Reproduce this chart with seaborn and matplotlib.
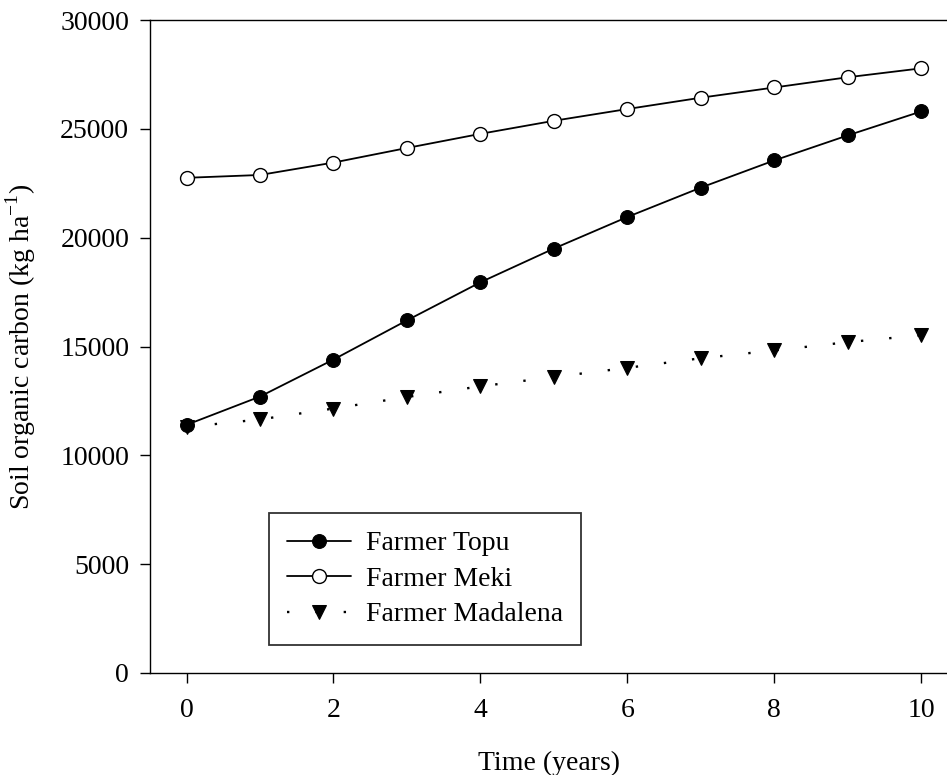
import numpy as np
import matplotlib
matplotlib.use('Agg')
import matplotlib.pyplot as plt
import seaborn as sns

# Data
years = [0, 1, 2, 3, 4, 5, 6, 7, 8, 9, 10]
topu = [11400, 12700, 14400, 16200, 17950, 19500, 20950, 22300, 23550, 24700, 25800]
meki = [22750, 22880, 23450, 24120, 24770, 25370, 25910, 26430, 26900, 27370, 27780]
madalena = [11300, 11650, 12150, 12680, 13170, 13600, 14020, 14460, 14820, 15200, 15520]

sns.set_style('ticks')
plt.rcParams['font.family'] = ['Liberation Serif', 'DejaVu Serif']
plt.rcParams['mathtext.fontset'] = 'custom'
plt.rcParams['mathtext.rm'] = 'Liberation Serif'
plt.rcParams['text.color'] = 'black'
plt.rcParams['axes.labelcolor'] = 'black'

fig = plt.figure(figsize=(9.47, 7.75), dpi=100)
ax = fig.add_axes([150 / 947, 1 - 673 / 775, 1 - 150 / 947, (673 - 20) / 775])

sns.lineplot(x=years, y=topu, ax=ax, color='black', lw=1.3, marker='o',
             markersize=10, markerfacecolor='black', markeredgecolor='black',
             label='Farmer Topu')
sns.lineplot(x=years, y=meki, ax=ax, color='black', lw=1.3, marker='o',
             markersize=10, markerfacecolor='white', markeredgecolor='black',
             markeredgewidth=1.0, label='Farmer Meki')
sns.lineplot(x=years, y=madalena, ax=ax, color='black', lw=1.7,
             linestyle=(0, (1, 11)), marker='v', markersize=10,
             markerfacecolor='black', markeredgecolor='black',
             label='Farmer Madalena')

ax.set_xlim(-0.497, 10.35)
ax.set_ylim(0, 30000)
ax.set_xticks([0, 2, 4, 6, 8, 10])
ax.set_yticks([0, 5000, 10000, 15000, 20000, 25000, 30000])

ax.spines['right'].set_visible(False)
for s in ['left', 'top', 'bottom']:
    ax.spines[s].set_linewidth(1.0)
    ax.spines[s].set_color('black')
ax.tick_params(axis='both', direction='out', length=7, width=1.0,
               labelsize=20, colors='black', pad=8)
ax.tick_params(axis='x', pad=11)

ax.set_xlabel('Time (years)', fontsize=20, labelpad=20)
ax.set_ylabel('Soil organic carbon (kg ha$^{\\mathregular{-1}}$)', fontsize=20, labelpad=16)

leg = ax.legend(loc='upper left', bbox_to_anchor=((269 - 150) / 797, 1 - (513 - 20) / 653),
                fontsize=20, frameon=True, fancybox=False, handlelength=2.3,
                handletextpad=0.55, labelspacing=0.36, borderpad=0.65, borderaxespad=0)
leg.get_frame().set_edgecolor('black')
leg.get_frame().set_linewidth(1.3)

fig.savefig('out.png', dpi=100)
